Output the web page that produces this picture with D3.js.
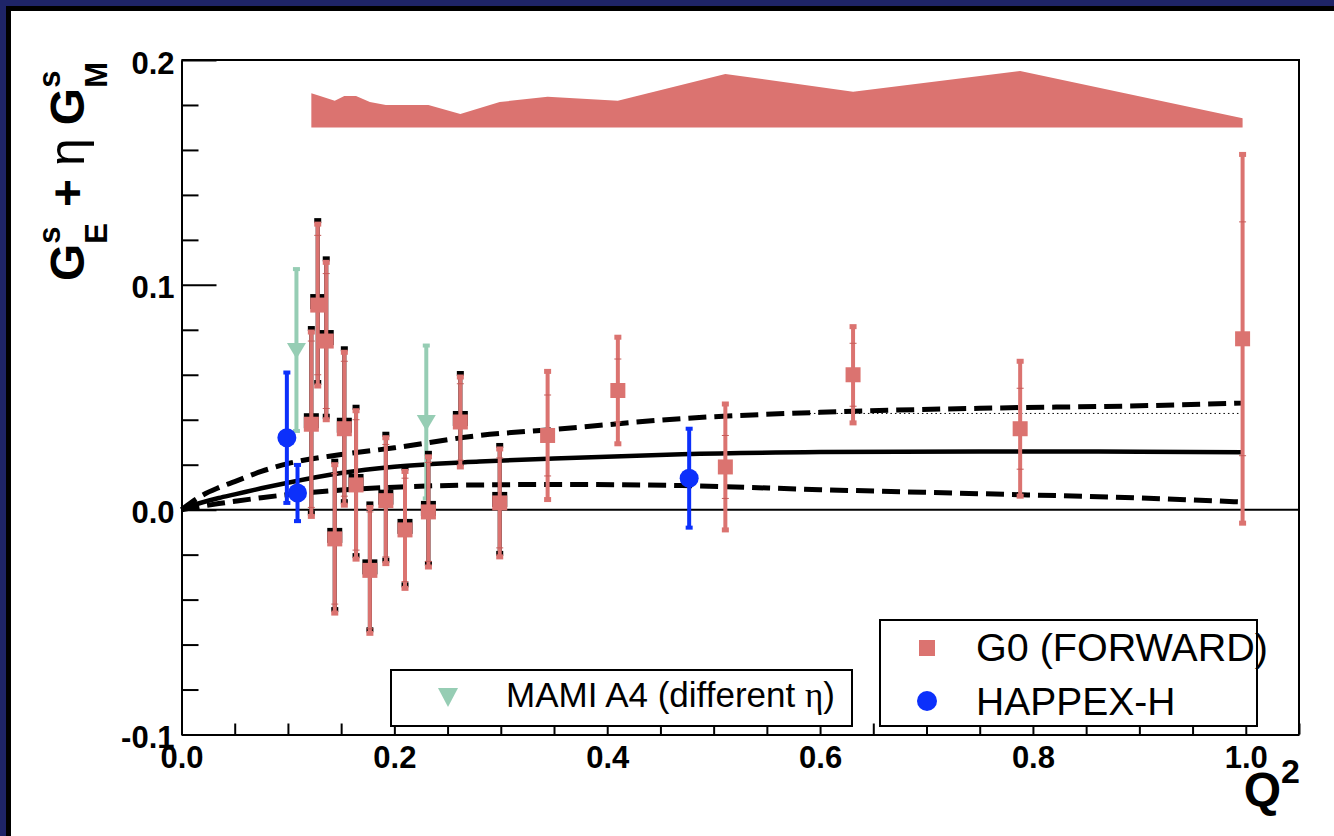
<!DOCTYPE html>
<html>
<head>
<meta charset="utf-8">
<script src="https://cdn.jsdelivr.net/npm/d3@7"></script>
<style>
  body { margin: 0; background: #fff; }
  svg { display: block; }
  text { font-family: "Liberation Sans", Arial, Helvetica, sans-serif; }
</style>
</head>
<body>
<div id="chart"></div>
<script>
// G0 forward angle data (Q^2, value, total error, statistical error)
var g0Q2 = [0.122, 0.128, 0.136, 0.144, 0.153, 0.164, 0.177, 0.192, 0.210, 0.232, 0.262, 0.299, 0.344, 0.410, 0.511, 0.631, 0.788, 0.997];
var g0Val = [0.038, 0.091, 0.075, -0.013, 0.036, 0.011, -0.027, 0.004, -0.009, -0.001, 0.039, 0.003, 0.033, 0.053, 0.019, 0.060, 0.036, 0.076];
var g0Tot = [0.041, 0.036, 0.035, 0.033, 0.034, 0.033, 0.028, 0.028, 0.026, 0.0245, 0.020, 0.024, 0.0285, 0.0237, 0.028, 0.0214, 0.030, 0.082];
var g0Stat = [0.037, 0.031, 0.030, 0.029, 0.030, 0.029, 0.026, 0.025, 0.023, 0.022, 0.017, 0.020, 0.018, 0.014, 0.014, 0.014, 0.018, 0.052];
// systematic band on top of the plot (drawn from 0.17 up)
var bandBase = 0.17;
var bandTop = [0.1852, 0.1843, 0.1831, 0.1819, 0.1840, 0.1840, 0.1813, 0.1800, 0.1800, 0.1800, 0.1760, 0.1813, 0.1837, 0.1819, 0.1938, 0.1859, 0.1951, 0.1741];

// HAPPEX-H
var hapQ2 = [0.099, 0.109, 0.477];
var hapVal = [0.032, 0.0074, 0.014];
var hapErr = [0.029, 0.0125, 0.022];

// MAMI A4
var mamiQ2 = [0.108, 0.230];
var mamiVal = [0.071, 0.039];
var mamiErr = [0.036, 0.034];

// model curves
var modelQ2 = [0, 0.01, 0.02, 0.035, 0.05, 0.075, 0.1, 0.15, 0.2, 0.28, 0.35, 0.47, 0.6, 0.75, 0.9, 0.997];
var modelMid = [0, 0.0018, 0.0033, 0.0052, 0.0068, 0.0095, 0.012, 0.0163, 0.0191, 0.0214, 0.0228, 0.0247, 0.0256, 0.0259, 0.0258, 0.0255];
var modelUp = [0, 0.0035, 0.0065, 0.0098, 0.0125, 0.017, 0.0205, 0.0245, 0.0275, 0.033, 0.0357, 0.0405, 0.0433, 0.0451, 0.0462, 0.0474];
var modelLow = [0, 0.0008, 0.0016, 0.0027, 0.0037, 0.0053, 0.0067, 0.0087, 0.0100, 0.0110, 0.0112, 0.0107, 0.0089, 0.0071, 0.0052, 0.0034];
// thin dotted line near the upper curve
var dotQ2 = [0.59, 0.997];
var dotVal = [0.0428, 0.0428];

// axis ticks
var xTicks = [0, 0.2, 0.4, 0.6, 0.8, 1.0];
var yTicks = [-0.1, 0, 0.1, 0.2];

var pink = "#db7370", blue = "#0c30fb", green = "#96cdb4";

function drawChart() {
  var W = 1334, H = 836;
  var svg = d3.select("#chart").append("svg")
      .attr("width", W)
      .attr("height", H);

  svg.append("rect").attr("width", W).attr("height", H).attr("fill", "#fff");
  // the dark frame on top and left
  svg.append("rect").attr("x", 0).attr("y", 0).attr("width", W).attr("height", 6).attr("fill", "#1e2468");
  svg.append("rect").attr("x", 0).attr("y", 0).attr("width", 6).attr("height", H).attr("fill", "#1e2468");
  svg.append("rect").attr("x", 6).attr("y", 6).attr("width", W - 6).attr("height", 5).attr("fill", "#000");
  svg.append("rect").attr("x", 6).attr("y", 6).attr("width", 5).attr("height", H - 6).attr("fill", "#000");

  var x = d3.scaleLinear().domain([0, 1.05]).range([181.5, 1299]);
  var y = d3.scaleLinear().domain([-0.1, 0.2]).range([734.5, 60]);

  var plot = svg.append("g");

  // systematic band
  var band = g0Q2.map(function(q, i) { return {q: q, top: bandTop[i]}; });
  plot.append("path")
      .datum(band)
      .attr("fill", pink)
      .attr("d", d3.area()
          .x(function(d) { return x(d.q); })
          .y0(y(bandBase))
          .y1(function(d) { return y(d.top); }));

  // zero line
  plot.append("line")
      .attr("x1", x(0)).attr("x2", x(1.05))
      .attr("y1", y(0)).attr("y2", y(0))
      .attr("stroke", "#000").attr("stroke-width", 2);

  // model curves
  var line = d3.line()
      .x(function(d) { return x(d[0]); })
      .y(function(d) { return y(d[1]); })
      .curve(d3.curveMonotoneX);
  function zipModel(vals) { return modelQ2.map(function(q, i) { return [q, vals[i]]; }); }

  plot.append("path").datum(zipModel(modelUp)).attr("d", line)
      .attr("fill", "none").attr("stroke", "#000").attr("stroke-width", 5).attr("stroke-dasharray", "18,8");
  plot.append("path").datum(zipModel(modelLow)).attr("d", line)
      .attr("fill", "none").attr("stroke", "#000").attr("stroke-width", 5).attr("stroke-dasharray", "18,8");
  plot.append("path").datum(zipModel(modelMid)).attr("d", line)
      .attr("fill", "none").attr("stroke", "#000").attr("stroke-width", 4.5);
  plot.append("path").datum(dotQ2.map(function(q, i) { return [q, dotVal[i]]; }))
      .attr("d", d3.line().x(function(d) { return x(d[0]); }).y(function(d) { return y(d[1]); }))
      .attr("fill", "none").attr("stroke", "#000").attr("stroke-width", 1).attr("stroke-dasharray", "1.5,3");

  // MAMI A4 points
  var mami = mamiQ2.map(function(q, i) { return {q: q, v: mamiVal[i], e: mamiErr[i]}; });
  var mg = plot.selectAll(".mami").data(mami).enter().append("g").attr("class", "mami");
  mg.append("line")
      .attr("x1", function(d) { return x(d.q); }).attr("x2", function(d) { return x(d.q); })
      .attr("y1", function(d) { return y(d.v + d.e); }).attr("y2", function(d) { return y(d.v - d.e); })
      .attr("stroke", green).attr("stroke-width", 4);
  mg.selectAll(".cap").data(function(d) { return [[d.q, d.v + d.e], [d.q, d.v - d.e]]; })
      .enter().append("rect")
      .attr("x", function(d) { return x(d[0]) - 3.5; }).attr("y", function(d) { return y(d[1]) - 2; })
      .attr("width", 7).attr("height", 4).attr("fill", green);
  mg.append("path")
      .attr("d", function(d) {
        var cx = x(d.q), cy = y(d.v);
        return "M" + (cx - 9.5) + "," + (cy - 7) + "L" + (cx + 9.5) + "," + (cy - 7) + "L" + cx + "," + (cy + 9) + "Z";
      })
      .attr("fill", green);

  // HAPPEX-H points
  var hap = hapQ2.map(function(q, i) { return {q: q, v: hapVal[i], e: hapErr[i]}; });
  var hg = plot.selectAll(".hap").data(hap).enter().append("g").attr("class", "hap");
  hg.append("line")
      .attr("x1", function(d) { return x(d.q); }).attr("x2", function(d) { return x(d.q); })
      .attr("y1", function(d) { return y(d.v + d.e); }).attr("y2", function(d) { return y(d.v - d.e); })
      .attr("stroke", blue).attr("stroke-width", 4);
  hg.selectAll(".cap").data(function(d) { return [[d.q, d.v + d.e], [d.q, d.v - d.e]]; })
      .enter().append("rect")
      .attr("x", function(d) { return x(d[0]) - 3.5; }).attr("y", function(d) { return y(d[1]) - 2; })
      .attr("width", 7).attr("height", 4).attr("fill", blue);
  hg.append("circle")
      .attr("cx", function(d) { return x(d.q); }).attr("cy", function(d) { return y(d.v); })
      .attr("r", 9.5).attr("fill", blue);

  // G0 points, the low Q2 ones have a black copy just above
  var g0 = g0Q2.map(function(q, i) { return {q: q, v: g0Val[i], e: g0Tot[i], s: g0Stat[i], shadow: q < 0.3}; });
  function drawG0(sel, col, dy) {
    sel.append("line")
        .attr("x1", function(d) { return x(d.q); }).attr("x2", function(d) { return x(d.q); })
        .attr("y1", function(d) { return y(d.v + d.e) + dy; }).attr("y2", function(d) { return y(d.v - d.e) + dy; })
        .attr("stroke", col).attr("stroke-width", 4);
    sel.selectAll(".cap").data(function(d) { return [[d.q, d.v + d.e], [d.q, d.v - d.e]]; })
        .enter().append("rect")
        .attr("x", function(d) { return x(d[0]) - 3.5; }).attr("y", function(d) { return y(d[1]) - 2.5 + dy; })
        .attr("width", 7).attr("height", 5).attr("fill", col);
    sel.append("rect")
        .attr("x", function(d) { return x(d.q) - 7.5; }).attr("y", function(d) { return y(d.v) - 7.5 + dy; })
        .attr("width", 15).attr("height", 15).attr("fill", col);
  }
  var shadows = plot.selectAll(".g0shadow").data(g0.filter(function(d) { return d.shadow; }))
      .enter().append("g").attr("class", "g0shadow");
  drawG0(shadows, "#000", -3.5);
  var pts = plot.selectAll(".g0").data(g0).enter().append("g").attr("class", "g0");
  drawG0(pts, pink, 0);
  pts.selectAll(".stat").data(function(d) { return [[d.q, d.v + d.s], [d.q, d.v - d.s]]; })
      .enter().append("line")
      .attr("x1", function(d) { return x(d[0]) - 3.5; }).attr("x2", function(d) { return x(d[0]) + 3.5; })
      .attr("y1", function(d) { return y(d[1]); }).attr("y2", function(d) { return y(d[1]); })
      .attr("stroke", "#c65c59").attr("stroke-width", 1);

  // axes
  var fmt = function(d) { return d.toFixed(1); };
  var yMinor = d3.range(-0.1, 0.2001, 0.02).filter(function(v) { return Math.abs(v * 10 - Math.round(v * 10)) > 1e-6; });
  var xMinor = d3.range(0, 1.0501, 0.05).filter(function(v) { return Math.abs(v * 5 - Math.round(v * 5)) > 1e-6; });

  var yAxisG = svg.append("g").attr("transform", "translate(" + x(0) + ",0)");
  yAxisG.call(d3.axisLeft(y).tickValues(yTicks).tickFormat(fmt).tickSizeInner(-35).tickSizeOuter(0).tickPadding(7));
  yAxisG.append("g").call(d3.axisLeft(y).tickValues(yMinor).tickFormat("").tickSizeInner(-17).tickSizeOuter(0))
      .select(".domain").remove();
  yAxisG.selectAll("text").attr("dy", "0.42em").attr("font-size", 31).attr("font-weight", "bold")
      .attr("font-family", "Liberation Sans, Arial, sans-serif").attr("fill", "#000");

  var xAxisG = svg.append("g").attr("transform", "translate(0," + y(-0.1) + ")");
  xAxisG.call(d3.axisBottom(x).tickValues(xTicks).tickFormat(fmt).tickSizeInner(-22).tickSizeOuter(0).tickPadding(11));
  xAxisG.append("g").call(d3.axisBottom(x).tickValues(xMinor).tickFormat("").tickSizeInner(-11).tickSizeOuter(0))
      .select(".domain").remove();
  xAxisG.selectAll("text").attr("font-size", 31).attr("font-weight", "bold")
      .attr("font-family", "Liberation Sans, Arial, sans-serif").attr("fill", "#000");

  svg.selectAll(".domain").attr("stroke-width", 2);
  svg.selectAll(".tick line").attr("stroke-width", 2);

  // frame: top and right sides
  svg.append("path")
      .attr("d", "M" + x(0) + "," + y(0.2) + "H" + x(1.05) + "V" + y(-0.1))
      .attr("fill", "none").attr("stroke", "#000").attr("stroke-width", 2);

  // legend with MAMI A4
  var l1 = svg.append("g");
  l1.append("rect").attr("x", 391).attr("y", 670).attr("width", 461).attr("height", 56)
      .attr("fill", "#fff").attr("stroke", "#000").attr("stroke-width", 2);
  l1.append("path").attr("d", "M438,688L458,688L448,707Z").attr("fill", green);
  var t1 = l1.append("text").attr("x", 506).attr("y", 707).attr("font-size", 35);
  t1.append("tspan").text("MAMI A4 (different ");
  t1.append("tspan").attr("font-family", "Liberation Serif, Times New Roman, serif").text("η");
  t1.append("tspan").text(")");

  // legend with G0 and HAPPEX-H
  var l2 = svg.append("g");
  l2.append("rect").attr("x", 880).attr("y", 620).attr("width", 377).attr("height", 106)
      .attr("fill", "#fff").attr("stroke", "#000").attr("stroke-width", 2);
  l2.append("rect").attr("x", 919).attr("y", 640).attr("width", 16).attr("height", 16).attr("fill", pink);
  l2.append("circle").attr("cx", 927).attr("cy", 701).attr("r", 10).attr("fill", blue);
  l2.append("text").attr("x", 976).attr("y", 661).attr("font-size", 39.5).text("G0 (FORWARD)");
  l2.append("text").attr("x", 976).attr("y", 715).attr("font-size", 39).text("HAPPEX-H");

  // x title
  var xt = svg.append("text").attr("x", 1300).attr("y", 806).attr("text-anchor", "end")
      .attr("font-weight", "bold");
  xt.append("tspan").attr("font-size", 48).text("Q");
  xt.append("tspan").attr("font-size", 34).attr("dy", -23).text("2");

  // y title, built piece by piece in a rotated group
  var yt = svg.append("g");
  var cx = 0;
  function piece(txt, size, dy, serif) {
    var t = yt.append("text").attr("x", cx).attr("y", dy).attr("font-size", size)
        .attr("font-weight", serif ? "normal" : "bold").text(txt);
    if (serif) t.attr("font-family", "Liberation Serif, Times New Roman, serif");
    return t.node().getComputedTextLength();
  }
  cx += piece("G", 48, 0);
  var w1 = Math.max(piece("s", 31, -24), piece("E", 31, 23));
  cx += w1 + 16;
  cx += piece("+", 48, 0) + 13;
  cx += piece("η", 50, 0, true) + 13;
  cx += piece("G", 48, 0);
  var w2 = Math.max(piece("s", 31, -24), piece("M", 31, 23));
  cx += w2;
  yt.attr("transform", "translate(84," + (62 + cx) + ") rotate(-90)");
}

drawChart();
</script>
</body>
</html>
